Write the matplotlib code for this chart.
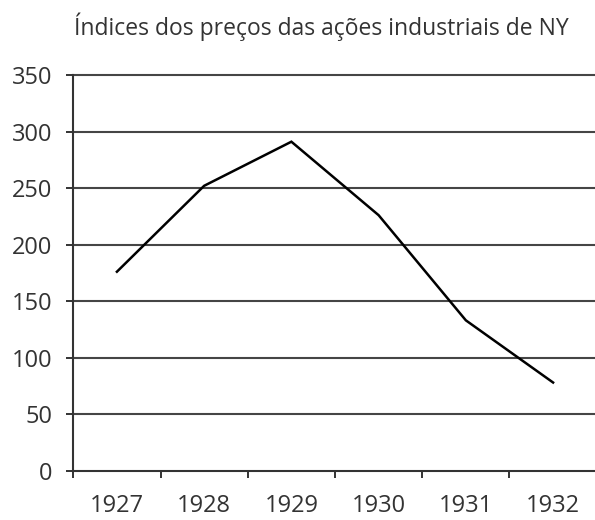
import matplotlib
matplotlib.use("Agg")
import matplotlib.pyplot as plt

plt.rcParams['font.family'] = ['Open Sans', 'DejaVu Sans']

title = "Índices dos preços das ações industriais de NY"
years = ["1927", "1928", "1929", "1930", "1931", "1932"]
values = [176, 252, 291, 226, 133, 78]
y_ticks = [0, 50, 100, 150, 200, 250, 300, 350]

PX = 72 / 100  # points per pixel at dpi 100
W, H = 595, 520

fig = plt.figure(figsize=(W / 100, H / 100), dpi=100)
ax = fig.add_axes([73.3 / W, (H - 470.7) / H, (596.7 - 73.3) / W, (470.7 - 75) / H])

for yt in y_ticks[1:]:
    ax.axhline(yt, color='#454545', lw=1.5, zorder=1, clip_on=False)

ax.plot(range(len(years)), values, color='black', lw=1.8, zorder=3, solid_joinstyle='miter')

ax.set_ylim(0, 350)
ax.set_xlim(-0.5, len(years) - 0.5)
ax.set_yticks(y_ticks)
ax.set_yticklabels([str(v) for v in y_ticks], fontsize=17, color='#333333')

bounds = [i - 0.5 for i in range(len(years) + 1)]
ax.set_xticks(bounds)
ax.set_xticklabels([''] * len(bounds))
ax.set_xticks(range(len(years)), minor=True)
ax.set_xticklabels(years, minor=True, fontsize=17, color='#333333')
ax.tick_params(axis='x', which='minor', length=0, pad=23 * PX)
ax.tick_params(axis='x', which='major', length=7 * PX, width=1.4, color='#333333', direction='out')
ax.tick_params(axis='y', length=7 * PX, width=1.4, color='#333333', direction='out', pad=14 * PX)

for s in ['top', 'right']:
    ax.spines[s].set_visible(False)
for s in ['left', 'bottom']:
    ax.spines[s].set_color('#333333')
    ax.spines[s].set_linewidth(1.5)

fig.text(321.5 / W, 1 - 35 / H, title, ha='center', va='baseline', fontsize=16.5,
         color='#333333')

fig.savefig('out.png', dpi=100)
